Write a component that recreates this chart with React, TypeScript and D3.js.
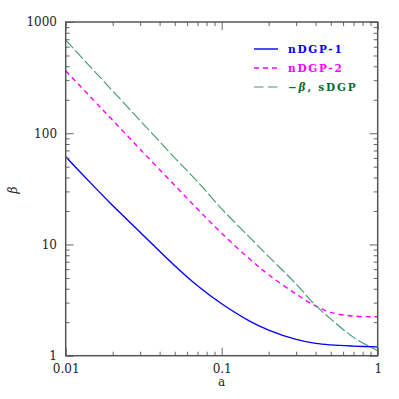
// Log-log plot of beta(a) for the DGP branches, with a boxed frame,
// inward major/minor ticks on all four sides and a legend top-right.
import React, { useEffect, useRef } from 'react';
import * as d3 from 'd3';

const W = 399;
const H = 399;
const LEFT = 65.7;
const RIGHT = 377.7;
const TOP = 22;
const BOTTOM = 355.7;

// scale factor a (x axis)
const aValues = [0.01, 0.015, 0.02, 0.03, 0.05, 0.07, 0.1, 0.15, 0.2, 0.3, 0.4, 0.5, 0.7, 1];
// beta values
const nDGP1 = [61.4, 33.8, 22.4, 12.9, 6.45, 4.26, 2.93, 2.06, 1.7, 1.4, 1.29, 1.25, 1.22, 1.2];
const nDGP2 = [364, 200, 131, 71.7, 34.0, 20.8, 12.6, 7.47, 5.34, 3.58, 2.8, 2.45, 2.27, 2.24];
const sDGP = [686, 371, 240, 130, 60.1, 36.7, 20.9, 11.7, 7.79, 4.41, 2.83, 2.14, 1.46, 1.11];

const xMajor = [0.01, 0.1, 1];
const xMajorLabels = ['0.01', '0.1', '1'];
const yMajor = [1, 10, 100, 1000];
const yMajorLabels = ['1', '10', '100', '1000'];

const series = [
  { key: 'nDGP-1', values: nDGP1, color: '#0000ff', text: '#0000ff', dash: null, width: 1.4 },
  { key: 'nDGP-2', values: nDGP2, color: '#ff00ff', text: '#ff00ff', dash: '5,4', width: 1.4 },
  { key: 'sDGP', values: sDGP, color: '#3d9a6e', text: '#0b6b3a', dash: '11,3', width: 1.1 },
];

const minorTicks = (lo: number, hi: number) => {
  const out: number[] = [];
  for (let d = lo; d < hi; d *= 10) {
    for (let k = 2; k <= 9; k++) out.push(d * k);
  }
  return out;
};

const TICK_FONT = '"DejaVu Serif", serif';

const App = () => {
  const svgRef = useRef<SVGSVGElement>(null);

  useEffect(() => {
    const svg = d3.select(svgRef.current).attr('width', W).attr('height', H);
    svg.selectAll('*').remove();
    svg.append('rect').attr('width', W).attr('height', H).attr('fill', 'white');

    const x = d3.scaleLog().domain([0.01, 1]).range([LEFT, RIGHT]);
    const y = d3.scaleLog().domain([1, 1000]).range([BOTTOM, TOP]);

    svg
      .append('clipPath')
      .attr('id', 'plot-clip')
      .append('rect')
      .attr('x', LEFT)
      .attr('y', TOP)
      .attr('width', RIGHT - LEFT)
      .attr('height', BOTTOM - TOP);

    // Curves.
    const g = svg.append('g').attr('clip-path', 'url(#plot-clip)');
    series.forEach((s) => {
      const line = d3
        .line<number>()
        .x((_d, i) => x(aValues[i]))
        .y((d) => y(d))
        .curve(d3.curveCatmullRom.alpha(0.5));
      g.append('path')
        .datum(s.values)
        .attr('fill', 'none')
        .attr('stroke', s.color)
        .attr('stroke-width', s.width)
        .attr('stroke-dasharray', s.dash)
        .attr('d', line);
    });

    // Ticks on all four sides, pointing inward.
    const tickColor = '#666';
    const addAxis = (axis: any, tx: number, ty: number) => {
      const ag = svg.append('g').attr('transform', `translate(${tx},${ty})`).call(axis);
      ag.select('.domain').remove();
      ag.selectAll('line').attr('stroke', tickColor).attr('stroke-width', 1);
      ag.selectAll('text')
        .attr('font-family', TICK_FONT)
        .attr('font-size', 12)
        .attr('fill', '#222');
      return ag;
    };
    const xMinor = minorTicks(0.01, 1);
    const yMinor = minorTicks(1, 1000);

    addAxis(
      d3.axisBottom(x).tickValues(xMajor).tickSize(-8).tickPadding(8.5)
        .tickFormat((_d, i) => xMajorLabels[i]),
      0,
      BOTTOM,
    );
    addAxis(d3.axisBottom(x).tickValues(xMinor).tickSize(-4).tickFormat(() => ''), 0, BOTTOM);
    addAxis(d3.axisTop(x).tickValues(xMajor).tickSize(-8).tickFormat(() => ''), 0, TOP);
    addAxis(d3.axisTop(x).tickValues(xMinor).tickSize(-4).tickFormat(() => ''), 0, TOP);

    addAxis(
      d3.axisLeft(y).tickValues(yMajor).tickSize(-8).tickPadding(8.7)
        .tickFormat((_d, i) => yMajorLabels[i]),
      LEFT,
      0,
    );
    addAxis(d3.axisLeft(y).tickValues(yMinor).tickSize(-4).tickFormat(() => ''), LEFT, 0);
    addAxis(d3.axisRight(y).tickValues(yMajor).tickSize(-8).tickFormat(() => ''), RIGHT, 0);
    addAxis(d3.axisRight(y).tickValues(yMinor).tickSize(-4).tickFormat(() => ''), RIGHT, 0);

    // Frame.
    svg
      .append('rect')
      .attr('x', LEFT)
      .attr('y', TOP)
      .attr('width', RIGHT - LEFT)
      .attr('height', BOTTOM - TOP)
      .attr('fill', 'none')
      .attr('stroke', '#555')
      .attr('stroke-width', 1.5);

    // Axis labels.
    svg
      .append('text')
      .attr('x', (LEFT + RIGHT) / 2)
      .attr('y', 386)
      .attr('text-anchor', 'middle')
      .attr('font-family', TICK_FONT)
      .attr('font-size', 12)
      .attr('fill', '#222')
      .text('a');
    svg
      .append('text')
      .attr('transform', 'translate(17,190) rotate(-90)')
      .attr('text-anchor', 'middle')
      .attr('font-family', TICK_FONT)
      .attr('font-style', 'italic')
      .attr('font-size', 12)
      .attr('fill', '#222')
      .text('β');

    // Legend.
    const legendY = [49, 68, 87];
    series.forEach((s, i) => {
      svg
        .append('line')
        .attr('x1', 254)
        .attr('x2', 278)
        .attr('y1', legendY[i])
        .attr('y2', legendY[i])
        .attr('stroke', s.color)
        .attr('stroke-width', s.width)
        .attr('stroke-dasharray', i === 2 ? '9.5,4.5' : s.dash);
      const t = svg
        .append('text')
        .attr('x', 288)
        .attr('y', legendY[i])
        .attr('dy', '0.35em')
        .attr('font-family', '"DejaVu Serif", serif')
        .attr('font-weight', 'bold')
        .attr('font-size', 10.5)
        .attr('letter-spacing', 1.8)
        .attr('fill', s.text);
      if (i === 2) {
        t.append('tspan').text('−');
        t.append('tspan').attr('font-style', 'italic').text('β');
        t.append('tspan').text(', sDGP');
      } else {
        t.text(s.key);
      }
    });
  }, []);

  return (
    <svg
      ref={svgRef}
      style={{ position: 'absolute', left: 0, top: 0, display: 'block' }}
    />
  );
};

export default App;
